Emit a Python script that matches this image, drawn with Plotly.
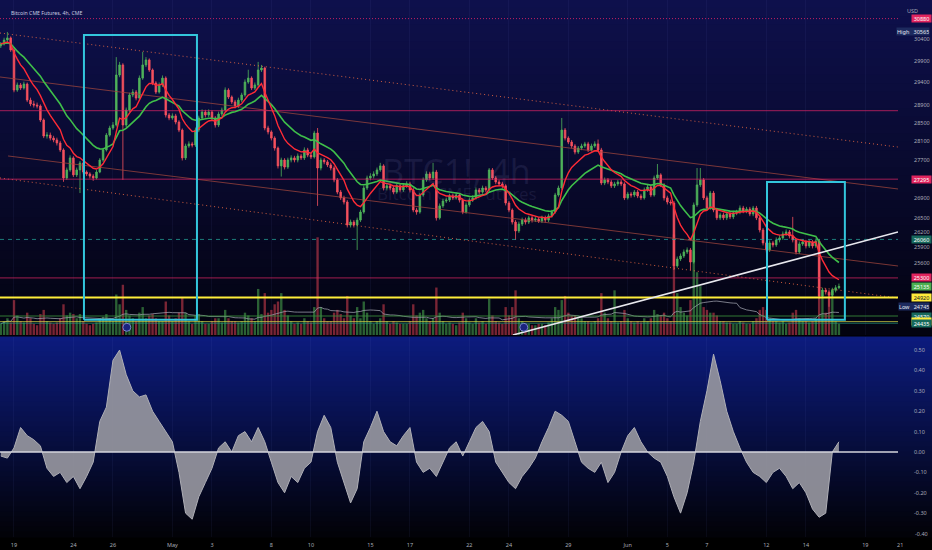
import math
import pandas as pd
import plotly.graph_objects as go

# ---------------- data ----------------
# 4h bars; bar 0 = first bar of 19 Apr, 6 bars per trading day
bar_index = list(range(-4, 251))

opens = [
    30240, 30285, 30375, 30425,
    30145, 29230, 29345, 29275, 29365, 29005, 28920, 28895, 28875, 28565,
    28215, 28235, 28170, 28130, 28065, 27915, 27320, 27490, 27745, 27385,
    27490, 27635, 27445, 27405, 27360, 27320, 27445, 27700, 27915, 28235,
    28390, 28455, 29570, 29800, 28455, 28785, 29120, 29185, 29050, 29500,
    29800, 29915, 29685, 29390, 29185, 29345, 29500, 28675, 28610, 28655,
    28520, 28345, 27745, 28000, 28045, 28020, 28345, 28610, 28740, 28675,
    28740, 28610, 28455, 28695, 28785, 29230, 29075, 28965, 28875, 29005,
    29120, 29410, 29500, 29275, 29345, 29685, 29730, 28390, 28305, 28170,
    27955, 27575, 27700, 27550, 27700, 27745, 27700, 27785, 27745, 27915,
    27805, 27765, 28280, 27530, 27700, 27660, 27595, 27530, 27280, 27025,
    26905, 26820, 26350, 26410, 26350, 26450, 26615, 27110, 27320, 27360,
    27405, 27490, 27575, 27110, 27155, 27110, 27025, 27155, 27070, 27155,
    27195, 27070, 26655, 26615, 26965, 27280, 27405, 27320, 27445, 26495,
    26740, 26840, 26860, 26945, 26905, 26965, 26860, 26615, 26760, 26860,
    26905, 27070, 27025, 27110, 27070, 27490, 27320, 27235, 27195, 27155,
    26800, 26655, 26410, 26230, 26370, 26450, 26410, 26495, 26450, 26470,
    26430, 26495, 26450, 26535, 26615, 26965, 27110, 28345, 28170, 28085,
    28000, 27870, 27955, 28000, 28045, 27915, 28000, 28045, 27915, 27215,
    27280, 27235, 27155, 27195, 27235, 27195, 26905, 26985, 26965, 27025,
    26945, 26905, 27070, 27130, 26965, 27320, 27385, 27175, 26905, 26820,
    26800, 25535, 25670, 25730, 25810, 25850, 25610, 26760, 27175, 27280,
    26905, 26695, 27005, 26655, 26495, 26555, 26495, 26575, 26515, 26595,
    26615, 26695, 26635, 26675, 26575, 26695, 26495, 26250, 25990, 25850,
    25990, 25950, 26050, 26090, 26170, 26210, 26130, 26050, 25810, 25970,
    26010, 25930, 26010, 25930, 26030, 24950, 25065, 25030, 24970, 25060,
    25110,
]
highs = [
    30330, 30430, 30565, 30460,
    30200, 29400, 29390, 29420, 29400, 29060, 28990, 28950, 28910, 28600,
    28300, 28290, 28220, 28180, 28110, 27950, 27540, 27800, 27780, 27540,
    27680, 27670, 27480, 27440, 27400, 27490, 27740, 27960, 28280, 28440,
    28520, 29980, 29870, 29840, 28840, 29170, 29250, 29230, 29560, 30100,
    29980, 29950, 29720, 29430, 29400, 29560, 29540, 28720, 28710, 28700,
    28560, 28380, 28050, 28100, 28090, 28400, 28660, 28800, 28790, 28800,
    28780, 28650, 28750, 28840, 29290, 29270, 29110, 29010, 29060, 29170,
    29470, 29690, 29540, 29400, 29870, 29800, 29760, 28440, 28340, 28210,
    27990, 27750, 27740, 27750, 27800, 27790, 27840, 27830, 27970, 27960,
    27850, 28330, 28390, 27750, 27740, 27700, 27640, 27570, 27320, 27070,
    26950, 26860, 26460, 26450, 26500, 26660, 27160, 27370, 27420, 27460,
    27540, 27640, 27610, 27210, 27200, 27150, 27200, 27200, 27200, 27250,
    27240, 27110, 26700, 27010, 27330, 27460, 27450, 27640, 27490, 26790,
    26890, 26910, 26990, 26990, 27020, 27000, 26900, 26810, 26910, 26960,
    27120, 27110, 27160, 27150, 27530, 27530, 27360, 27280, 27240, 27190,
    26840, 26690, 26450, 26420, 26500, 26500, 26540, 26540, 26520, 26510,
    26540, 26540, 26580, 26660, 27010, 27160, 28610, 28390, 28210, 28130,
    28040, 28000, 28050, 28090, 28090, 28050, 28100, 28140, 27960, 27330,
    27320, 27280, 27240, 27280, 27280, 27230, 27030, 27030, 27070, 27070,
    26990, 27120, 27180, 27170, 27370, 27615, 27420, 27210, 26950, 26870,
    26840, 25720, 25780, 25860, 25900, 25890, 26810, 27530, 27530, 27320,
    26950, 27050, 27050, 26700, 26600, 26600, 26620, 26620, 26640, 26660,
    26750, 26740, 26720, 26720, 26740, 26740, 26540, 26290, 26030, 26040,
    26030, 26100, 26140, 26220, 26260, 26250, 26515, 26090, 26020, 26060,
    26050, 26060, 26050, 26080, 26070, 25110, 25100, 25070, 25110, 25160,
    25190,
]
lows = [
    30190, 30250, 30330, 30100,
    29180, 29190, 29230, 29240, 28960, 28870, 28840, 28820, 28520, 28170,
    28160, 28120, 28080, 28010, 27870, 27240, 27280, 27450, 27340, 27340,
    27005, 27400, 27360, 27310, 27260, 27290, 27420, 27660, 27880, 28200,
    28350, 28420, 29520, 27280, 28400, 28740, 29070, 29000, 29010, 29460,
    29750, 29640, 29340, 29140, 29150, 29300, 28620, 28560, 28570, 28470,
    28300, 27690, 27700, 27960, 27970, 27980, 28300, 28570, 28620, 28630,
    28560, 28400, 28410, 28650, 28750, 29030, 28920, 28820, 28830, 28960,
    29080, 29370, 29230, 29230, 29300, 29640, 28340, 28250, 28120, 27900,
    27520, 27350, 27500, 27510, 27650, 27650, 27650, 27700, 27700, 27760,
    27720, 27730, 26740, 27480, 27610, 27550, 27480, 27230, 26980, 26860,
    26770, 26300, 26300, 26300, 25850, 26410, 26580, 27070, 27270, 27310,
    27360, 27450, 27060, 27060, 27060, 26980, 26990, 27020, 27030, 27110,
    27020, 26610, 26560, 26580, 26930, 27240, 27270, 27280, 26440, 26460,
    26700, 26800, 26820, 26860, 26870, 26810, 26570, 26580, 26720, 26820,
    26870, 26980, 26990, 27020, 27030, 27280, 27190, 27150, 27110, 26750,
    26610, 26360, 26050, 26190, 26330, 26360, 26370, 26400, 26410, 26390,
    26390, 26400, 26410, 26500, 26580, 26930, 27070, 28120, 28040, 27950,
    27820, 27830, 27910, 27960, 27870, 27880, 27960, 27870, 27170, 27170,
    27190, 27110, 27110, 27150, 27150, 26860, 26870, 26910, 26920, 26900,
    26860, 26870, 27030, 26920, 26930, 27280, 27130, 26850, 26770, 26750,
    25455, 25500, 25630, 25690, 25770, 25455, 25580, 26720, 27130, 26860,
    26650, 26660, 26610, 26450, 26450, 26450, 26450, 26470, 26470, 26550,
    26570, 26590, 26590, 26530, 26530, 26450, 26200, 25940, 25800, 25810,
    25900, 25910, 26000, 26050, 26130, 26080, 26000, 25760, 25770, 25930,
    25880, 25890, 25880, 25890, 24900, 24910, 24980, 24745, 24930, 25020,
    25080,
]
closes = [
    30285, 30375, 30425, 30145,
    29230, 29345, 29275, 29365, 29005, 28920, 28895, 28875, 28565, 28215,
    28235, 28170, 28130, 28065, 27915, 27320, 27490, 27745, 27385, 27490,
    27635, 27445, 27405, 27360, 27320, 27445, 27700, 27915, 28235, 28390,
    28455, 29570, 29800, 28455, 28785, 29120, 29185, 29050, 29500, 29800,
    29915, 29685, 29390, 29185, 29345, 29500, 28675, 28610, 28655, 28520,
    28345, 27745, 28000, 28045, 28020, 28345, 28610, 28740, 28675, 28740,
    28610, 28455, 28695, 28785, 29230, 29075, 28965, 28875, 29005, 29120,
    29410, 29500, 29275, 29345, 29685, 29730, 28390, 28305, 28170, 27955,
    27575, 27700, 27550, 27700, 27745, 27700, 27785, 27745, 27915, 27805,
    27765, 28280, 27530, 27700, 27660, 27595, 27530, 27280, 27025, 26905,
    26820, 26350, 26410, 26350, 26450, 26615, 27110, 27320, 27360, 27405,
    27490, 27575, 27110, 27155, 27110, 27025, 27155, 27070, 27155, 27195,
    27070, 26655, 26615, 26965, 27280, 27405, 27320, 27445, 26495, 26740,
    26840, 26860, 26945, 26905, 26965, 26860, 26615, 26760, 26860, 26905,
    27070, 27025, 27110, 27070, 27490, 27320, 27235, 27195, 27155, 26800,
    26655, 26410, 26230, 26370, 26450, 26410, 26495, 26450, 26470, 26430,
    26495, 26450, 26535, 26615, 26965, 27110, 28345, 28170, 28085, 28000,
    27870, 27955, 28000, 28045, 27915, 28000, 28045, 27915, 27215, 27280,
    27235, 27155, 27195, 27235, 27195, 26905, 26985, 26965, 27025, 26945,
    26905, 27070, 27130, 26965, 27320, 27385, 27175, 26905, 26820, 26800,
    25535, 25670, 25730, 25810, 25850, 25610, 26760, 27175, 27280, 26905,
    26695, 27005, 26655, 26495, 26555, 26495, 26575, 26515, 26595, 26615,
    26695, 26635, 26675, 26575, 26695, 26495, 26250, 25990, 25850, 25990,
    25950, 26050, 26090, 26170, 26210, 26130, 26050, 25810, 25970, 26010,
    25930, 26010, 25930, 26030, 24950, 25065, 25030, 24970, 25060, 25110,
    25135,
]
volumes = [
    400, 500, 600, 450,
    1250, 700, 500, 450, 800, 600, 400, 350, 750, 900,
    500, 450, 400, 450, 600, 1100, 700, 800, 750, 600,
    750, 500, 400, 350, 400, 450, 600, 650, 750, 600,
    500, 1450, 1100, 1800, 900, 700, 600, 500, 800, 1000,
    600, 700, 750, 600, 500, 500, 1200, 700, 500, 600,
    800, 1350, 800, 500, 400, 700, 750, 500, 400, 400,
    500, 600, 600, 450, 900, 600, 500, 500, 450, 500,
    800, 700, 600, 500, 1650, 750, 1500, 800, 900, 1100,
    1200, 1500, 900, 700, 500, 400, 450, 400, 600, 500,
    450, 1000, 3500, 1000, 600, 500, 500, 800, 900, 750,
    600, 1400, 700, 600, 1000, 600, 1200, 800, 500, 400,
    500, 600, 1100, 500, 400, 500, 450, 400, 400, 400,
    500, 1100, 700, 800, 900, 600, 500, 600, 1700, 800,
    500, 400, 450, 400, 350, 450, 800, 600, 450, 400,
    600, 450, 500, 400, 1300, 700, 500, 450, 400, 1000,
    700, 1000, 1600, 600, 500, 400, 400, 350, 350, 400,
    400, 350, 450, 600, 1000, 900, 1250, 1400, 800, 700,
    700, 600, 600, 500, 500, 450, 500, 600, 1500, 800,
    600, 500, 1600, 450, 500, 900, 600, 500, 450, 500,
    450, 600, 500, 600, 900, 750, 700, 800, 600, 500,
    3600, 1500, 1000, 800, 700, 1250, 3000, 2250, 1750, 1000,
    900, 800, 800, 700, 500, 500, 450, 450, 400, 400,
    500, 450, 400, 400, 500, 600, 900, 1000, 900, 600,
    500, 500, 450, 500, 400, 450, 800, 900, 600, 500,
    500, 450, 500, 600, 2750, 1400, 800, 1500, 1650, 500,
    400,
]

# lower-pane oscillator, one reading every second bar
osc_index = list(range(-4, 251, 2))
osc_values = [
    -0.02, -0.03, 0.02, 0.12, 0.08, 0.06, 0.03, -0.08, -0.12, -0.10,
    -0.15, -0.12, -0.18, -0.12, -0.05, 0.15, 0.22, 0.45, 0.50, 0.38,
    0.30, 0.27, 0.28, 0.20, 0.15, 0.10, 0.05, -0.10, -0.30, -0.33,
    -0.22, -0.15, -0.08, 0.02, 0.05, 0.00, 0.08, 0.10, 0.05, 0.12,
    0.05, -0.05, -0.15, -0.20, -0.12, -0.15, -0.08, -0.05, 0.10, 0.18,
    0.12, -0.05, -0.15, -0.25, -0.18, 0.05, 0.12, 0.20, 0.10, 0.05,
    0.03, 0.08, 0.12, -0.05, -0.10, -0.08, -0.12, -0.05, 0.02, 0.05,
    -0.02, 0.05, 0.12, 0.15, 0.10, -0.05, -0.10, -0.15, -0.18, -0.12,
    -0.08, -0.03, 0.05, 0.12, 0.20, 0.18, 0.15, 0.05, -0.05, -0.08,
    -0.10, -0.05, -0.15, -0.10, 0.00, 0.08, 0.12, 0.05, 0.00, -0.03,
    -0.05, -0.12, -0.22, -0.30, -0.20, -0.05, 0.15, 0.30, 0.48, 0.35,
    0.20, 0.10, 0.02, -0.05, -0.10, -0.12, -0.15, -0.10, -0.08, -0.12,
    -0.18, -0.15, -0.20, -0.28, -0.32, -0.30, 0.00, 0.05,
]

# time axis (trading days counted from 19 Apr; weekends skipped)
bars_per_day = 6
day_tick_labels = ["19", "24", "26", "May", "3", "8", "10", "15", "17", "22",
                   "24", "29", "Jun", "5", "7", "12", "14", "19", "21"]
day_tick_days = [0, 3, 5, 8, 10, 13, 15, 18, 20, 23, 25, 28, 31, 33, 35, 38, 40, 43, 45]

price_tick_values = [30400, 29900, 29400, 28900, 28500, 28100, 27700,
                     26900, 26500, 26200, 25900, 25600]
osc_tick_values = [0.5, 0.4, 0.3, 0.2, 0.1, 0.0, -0.1, -0.2, -0.3, -0.4]

# drawn horizontal levels
level_prices = [30880, 28770, 27295, 26060, 25300, 24920, 24570, 24465, 24435]

# drawn slanted lines (bar index, price)
chan_upper_x, chan_upper_p = [-4.24, 267.9], [30540, 27978]
chan_lower_x, chan_lower_p = [-4.24, 267.9], [27320, 24912]
mid_line_x, mid_line_p = [-4.24, 267.9], [29525, 27090]
low_line_x, low_line_p = [-1.8, 267.9], [27786, 25533]
trend_x, trend_p = [151.2, 267.9], [24214, 26209]

# drawn boxes
box1_x, box1_p = [21.2, 55.45], [24500, 30493]
box2_x, box2_p = [228.2, 251.8], [24500, 27236]

# event markers
event_x = [34.2, 154.5]
event_p = [24358, 24358]

X_RANGE = [-4.24, 267.9]
PRICE_RANGE = [24214, 31325]
OSC_RANGE = [-0.417, 0.564]

# ---------------- styling ----------------
UP = "#4fb35a"
DOWN = "#f5505e"
TXT = "#a9acb8"
PINK = "rgba(214,36,100,0.75)"
TICK_FONT = dict(size=5.5, color=TXT)

fig = go.Figure()

# volume (main y axis of the top pane, drawn underneath price)
vol_colors = ["rgba(76,175,80,0.55)" if c >= o else "rgba(240,70,85,0.5)"
              for o, c in zip(opens, closes)]
fig.add_trace(go.Bar(x=bar_index, y=volumes, marker_color=vol_colors,
                     marker_line_width=0, width=0.72, xaxis="x", yaxis="y",
                     hoverinfo="skip", showlegend=False))
vol_ma = pd.Series(volumes).rolling(20, min_periods=1).mean()
fig.add_trace(go.Scatter(x=bar_index, y=vol_ma, mode="lines",
                         line=dict(color="rgba(160,163,175,0.75)", width=1),
                         xaxis="x", yaxis="y", hoverinfo="skip", showlegend=False))

def pline(x, p, color, width=1, dash="solid"):
    fig.add_trace(go.Scatter(x=x, y=p, mode="lines",
                             line=dict(color=color, width=width, dash=dash),
                             xaxis="x", yaxis="y3", hoverinfo="skip", showlegend=False))

# slanted channel lines
pline(chan_upper_x, chan_upper_p, "rgba(255,112,67,0.8)", 1, "1px,3px")
pline(chan_lower_x, chan_lower_p, "rgba(255,112,67,0.8)", 1, "1px,3px")
pline(mid_line_x, mid_line_p, "rgba(160,70,60,0.75)", 1)
pline(low_line_x, low_line_p, "rgba(160,70,60,0.75)", 1)

# horizontal levels
level_styles = {
    30880: ("rgba(214,36,100,0.9)", 1, "1px,2px"),
    28770: (PINK, 1, "solid"),
    27295: (PINK, 1, "solid"),
    26060: ("rgba(38,166,154,0.75)", 1, "4px,4px"),
    25300: (PINK, 1, "solid"),
    24920: ("#ffee3a", 2, "solid"),
    24570: ("rgba(56,142,60,0.85)", 1, "solid"),
    24465: ("rgba(210,205,70,0.75)", 1, "solid"),
    24435: ("rgba(38,150,125,0.75)", 1, "solid"),
}
for lp in level_prices:
    col, w, d = level_styles[lp]
    pline(X_RANGE, [lp, lp], col, w, d)

# candles
fig.add_trace(go.Candlestick(
    x=bar_index, open=opens, high=highs, low=lows, close=closes,
    xaxis="x", yaxis="y3", whiskerwidth=0,
    increasing=dict(line=dict(color=UP, width=0.8), fillcolor=UP),
    decreasing=dict(line=dict(color=DOWN, width=0.8), fillcolor=DOWN),
    hoverinfo="skip", showlegend=False))

# moving averages
ema_fast = pd.Series(closes).ewm(span=9, adjust=False).mean()
ema_slow = pd.Series(closes).ewm(span=21, adjust=False).mean()
pline(bar_index, ema_slow, "#3fbf4a", 1.6)
pline(bar_index, ema_fast, "#ff2b36", 1.4)

# trend line and boxes
pline(trend_x, trend_p, "#e8e8ee", 1.6)
for bx, bp in [(box1_x, box1_p), (box2_x, box2_p)]:
    pline([bx[0], bx[1], bx[1], bx[0], bx[0]],
          [bp[0], bp[0], bp[1], bp[1], bp[0]], "#33c6dc", 2)

fig.add_trace(go.Scatter(x=event_x, y=event_p, mode="markers",
                         marker=dict(size=8, color="#1a237e",
                                     line=dict(color="#7986cb", width=1)),
                         xaxis="x", yaxis="y3", hoverinfo="skip", showlegend=False))

# oscillator pane
fig.add_trace(go.Scatter(x=osc_index, y=osc_values, mode="lines", fill="tozeroy",
                         fillcolor="rgba(150,150,158,0.92)",
                         line=dict(color="rgba(175,175,182,1)", width=1),
                         xaxis="x", yaxis="y2", hoverinfo="skip", showlegend=False))
fig.add_trace(go.Scatter(x=X_RANGE, y=[0, 0], mode="lines",
                         line=dict(color="#d4d4dc", width=1.5),
                         xaxis="x", yaxis="y2", hoverinfo="skip", showlegend=False))

# ---------------- layout ----------------
W, H = 932, 550
ML, MR, MT, MB = 0, 34, 0, 13
PW, PH = W - ML - MR, H - MT - MB
top_lo = (PH - 335) / PH
bot_hi = (PH - 337) / PH

shapes = []
def grad(y0, y1, c_top, c_bot, n=40):
    for k in range(n):
        t = k / (n - 1)
        col = tuple(int(round(c_top[j] + (c_bot[j] - c_top[j]) * t)) for j in range(3))
        ya = y1 - (y1 - y0) * k / n
        yb = y1 - (y1 - y0) * (k + 1) / n
        shapes.append(dict(type="rect", xref="paper", yref="paper",
                           x0=0, x1=W / PW, y0=yb - 0.001, y1=ya + 0.001,
                           fillcolor="rgb(%d,%d,%d)" % col, line=dict(width=0),
                           layer="below"))
grad(top_lo, 1.0, (14, 16, 76), (3, 3, 16))
grad(0.0, bot_hi, (12, 27, 125), (2, 2, 8))

tickvals_x = [d * bars_per_day for d in day_tick_days]
# the lowest oscillator label sits at the pane edge; it is written as an annotation
osc_axis_ticks = osc_tick_values[:-1]

fig.update_layout(
    width=W, height=H,
    margin=dict(l=ML, r=MR, t=MT, b=MB),
    paper_bgcolor="#000000", plot_bgcolor="rgba(0,0,0,0)",
    font=dict(family="Noto Sans, DejaVu Sans, sans-serif", color=TXT, size=6),
    showlegend=False, hovermode=False, shapes=shapes,
    xaxis=dict(range=X_RANGE, anchor="y2", tickvals=tickvals_x, ticktext=day_tick_labels,
               showgrid=True, gridcolor="rgba(120,130,210,0.07)", gridwidth=1,
               zeroline=False, showline=False, ticks="", tickfont=TICK_FONT,
               ticklabelstandoff=3, rangeslider=dict(visible=False), fixedrange=True),
    yaxis=dict(domain=[top_lo, 1], range=[0, 12000], visible=False, fixedrange=True),
    yaxis3=dict(overlaying="y", side="right", anchor="x", type="log",
                range=[math.log10(PRICE_RANGE[0]), math.log10(PRICE_RANGE[1])],
                tickvals=price_tick_values, ticktext=[str(v) for v in price_tick_values],
                showgrid=False, zeroline=False, showline=False, ticks="",
                tickfont=TICK_FONT, ticklabelstandoff=15, fixedrange=True),
    yaxis2=dict(domain=[0, bot_hi], range=OSC_RANGE, side="right", anchor="x",
                tickvals=osc_axis_ticks, ticktext=["%.2f" % v for v in osc_axis_ticks],
                showgrid=False, zeroline=False, showline=False, ticks="",
                tickfont=TICK_FONT, ticklabelstandoff=15, fixedrange=True),
)

ann = []
def axis_label(price, text, bg, fg):
    ann.append(dict(xref="paper", yref="y3", x=911 / PW, y=math.log10(price),
                    xanchor="left", yanchor="middle", text=text, showarrow=False,
                    bgcolor=bg, font=dict(size=5.5, color=fg), borderpad=0,
                    width=19, height=7))

axis_label(30880, "30880", "#e0245e", "#ffffff")
axis_label(27295, "27295", "#e0245e", "#ffffff")
axis_label(26060, "26060", "#17695c", "#ffffff")
axis_label(25300, "25300", "#e0245e", "#ffffff")
axis_label(25135, "25135", "#4caf50", "#ffffff")
axis_label(24920, "24920", "#ffeb3b", "#131722")
axis_label(24570, "24570", "#17695c", "#ffffff")
axis_label(24465, "24465", "#ffeb3b", "#131722")
axis_label(24435, "24435", "#17695c", "#ffffff")
for price, word in [(30565, "High"), (24745, "Low")]:
    ann.append(dict(xref="paper", yref="y3", x=930 / PW, y=math.log10(price),
                    xanchor="right", yanchor="middle",
                    text=word + "&nbsp;&nbsp;&nbsp;" + str(price), showarrow=False,
                    bgcolor="#1d2a5e", font=dict(size=5.5, color="#e6e8f0"),
                    borderpad=0, height=7))

ann.append(dict(xref="paper", yref="y2", x=913 / PW, y=osc_tick_values[-1],
                xanchor="left", yanchor="middle", text="%.2f" % osc_tick_values[-1],
                showarrow=False, font=TICK_FONT))
ann.append(dict(xref="paper", yref="paper", x=920 / PW, y=1 - 5 / PH, text="USD",
                showarrow=False, font=dict(size=5.5, color=TXT)))
ann.append(dict(xref="paper", yref="paper", x=9 / PW, y=1 - 7 / PH, xanchor="left",
                text="Bitcoin CME Futures, 4h, CME", showarrow=False,
                font=dict(size=5.2, color="#c8cbe0")))
ann.append(dict(xref="paper", yref="paper", x=457 / PW, y=1 - 146 / PH,
                text="BTC1!, 4h", showarrow=False,
                font=dict(size=34, color="rgba(140,145,200,0.12)")))
ann.append(dict(xref="paper", yref="paper", x=457 / PW, y=1 - 194 / PH,
                text="Bitcoin CME Futures", showarrow=False,
                font=dict(size=17, color="rgba(140,145,200,0.12)")))
# last day label sits under the price scale, beyond the plotted x range
last_tick = day_tick_days[-1] * bars_per_day
ann.append(dict(xref="paper", yref="paper",
                x=(last_tick - X_RANGE[0]) / (X_RANGE[1] - X_RANGE[0]), y=0,
                yanchor="top", yshift=-2, text=day_tick_labels[-1], showarrow=False,
                font=TICK_FONT))
fig.update_layout(annotations=ann)

fig.write_html("out.html", config={"displayModeBar": False},
               post_script="document.body.style.margin='0';document.body.style.overflow='hidden';")
